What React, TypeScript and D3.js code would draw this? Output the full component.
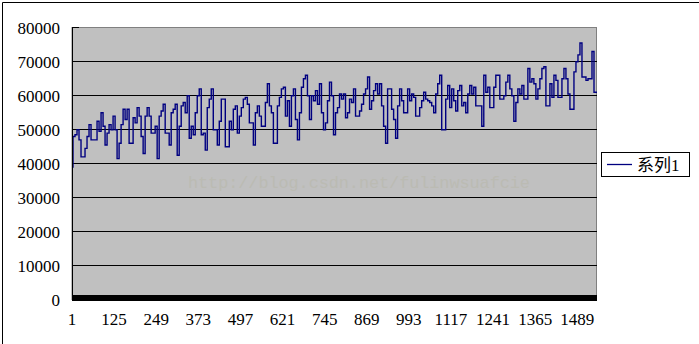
import React from "react";
import * as d3 from "d3";

const yTicks = [0, 10000, 20000, 30000, 40000, 50000, 60000, 70000, 80000];
const xTickLabels = [1, 125, 249, 373, 497, 621, 745, 869, 993, 1117, 1241, 1365, 1489];
const categoryCount = 1547;
const seriesName = "系列1";
const watermark = "http://blog.csdn.net/fulinwsuafcie";

const series1 = [
  39000, 48000, 48500, 50000, 47000, 42000, 42000, 44500, 48000, 51500,
  47000, 47000, 47000, 52500, 49500, 55000, 51000, 45500, 49000, 51500,
  50000, 54000, 50000, 41500, 46000, 51500, 56000, 53000, 56000, 46000,
  46000, 53500, 52000, 56500, 54000, 48000, 43000, 54000, 56500, 54000,
  49000, 49000, 51000, 41500, 54000, 55500, 57500, 49000, 49000, 45500,
  55000, 56000, 57500, 42500, 51000, 57000, 58000, 55000, 60000, 47500,
  51000, 48500, 55000, 60000, 62000, 48500,
  49000, 44000, 56500, 59000, 62000, 50000, 50000, 45500, 52500, 59000,
  59000, 45000, 45000, 52500, 50000, 56000, 57000, 49000, 54000, 56500,
  59000, 59500, 57500, 52000, 52000, 45500, 55000, 57000, 54000, 51000,
  51000, 58000, 63500, 57000, 55000, 46000, 46000, 57000, 59500, 62000,
  62500, 54000, 58500, 51000, 60000, 62000, 53000, 47000, 55000, 62500,
  65000, 66000, 60000, 53000, 60000, 58500, 61500, 57500, 63500, 55000,
  50000, 52000, 58500, 64000, 60000, 48500,
  55000, 56500, 60500, 59000, 60500, 53500, 55000, 59000, 58000, 62000,
  54000, 54000, 55500, 57500, 60500, 62000, 65500, 56000, 58500, 61500,
  63500, 60500, 63500, 57000, 51000, 46000, 62000, 62000, 56000, 53000,
  47500, 57000, 62000, 58500, 55000, 55000, 62000, 58500, 60500, 59500,
  54000, 54000, 56500, 58500, 61000, 59000, 58500, 58000, 57000, 55000,
  60500, 63500, 66000, 50000, 50000, 59000, 63000, 56500, 62000, 58500,
  55500, 61500, 63000, 57000, 58000, 55000,
  60500, 63000, 60500, 62500, 57000, 57000, 57000, 51000, 66000, 61000,
  62500, 56500, 56500, 62500, 66000, 66000, 59000, 59000, 60000, 64000,
  66000, 62000, 60000, 52500, 58000, 62000, 60500, 63000, 59000, 59000,
  68000, 64000, 65000, 63500, 59000, 62000, 65000, 68000, 68500, 57000,
  57000, 63500, 59500, 66000, 64500, 59500, 59500, 65000, 68000, 65000,
  60500, 56000, 56000, 67000, 70000, 72000, 75500, 65500, 65500, 64500,
  65000, 65000, 73000, 61000, 61000,
];

const W = 699;
const H = 344;
const plotL = 72;
const plotR = 597;
const plotT = 27.7;
const plotB = 299.7;

export default function App() {
  const x = d3.scaleLinear().domain([1, categoryCount]).range([plotL, plotR]);
  const y = d3.scaleLinear().domain([0, 80000]).range([plotB, plotT]);
  const step = (categoryCount - 1) / (series1.length - 1);
  const line = d3
    .line<number>()
    .x((_, i) => x(1 + i * step))
    .y((d) => y(d))
    .curve(d3.curveStep);
  const serif = "'Liberation Serif', 'Times New Roman', serif";

  return (
    <div style={{ position: "absolute", left: 0, top: 0, background: "#fff" }}>
      <svg width={W} height={H} style={{ display: "block" }}>
        <rect x={0} y={0} width={W} height={H} fill="#fff" />
        <line x1={2.5} y1={2.5} x2={W} y2={2.5} stroke="#000" strokeWidth={1} />
        <line x1={2.5} y1={2.5} x2={2.5} y2={H} stroke="#000" strokeWidth={1} />

        <rect
          x={plotL}
          y={Math.floor(plotT) + 0.5}
          width={plotR - plotL - 0.5}
          height={plotB - plotT}
          fill="#C0C0C0"
          stroke="#808080"
          strokeWidth={1}
        />

        <text
          x={188}
          y={188}
          fontFamily="'Liberation Mono', 'DejaVu Sans Mono', monospace"
          fontSize={17}
          fill="#bbbbb3"
          textLength={342}
        >
          {watermark}
        </text>

        {yTicks
          .filter((t) => t > 0 && t < 80000)
          .map((t) => (
            <line
              key={t}
              x1={plotL}
              x2={plotR}
              y1={Math.floor(y(t)) + 0.5}
              y2={Math.floor(y(t)) + 0.5}
              stroke="#000"
              strokeWidth={1}
            />
          ))}
        <line
          x1={plotL}
          x2={plotL + 7}
          y1={Math.floor(plotT) + 0.5}
          y2={Math.floor(plotT) + 0.5}
          stroke="#000"
        />

        <path d={line(series1) || ""} fill="none" stroke="#000080" strokeWidth={1.4} />

        <line x1={plotL + 0.5} x2={plotL + 0.5} y1={plotT} y2={plotB} stroke="#000" />
        <rect x={plotL} y={295} width={plotR - plotL} height={6} fill="#000" />

        {yTicks.map((t) => (
          <text
            key={t}
            x={60}
            y={y(t)}
            dy="0.35em"
            textAnchor="end"
            fontFamily={serif}
            fontSize={17}
            fill="#000"
          >
            {t}
          </text>
        ))}
        {xTickLabels.map((c) => (
          <text
            key={c}
            x={x(c)}
            y={325}
            textAnchor="middle"
            fontFamily={serif}
            fontSize={17}
            fill="#000"
          >
            {c}
          </text>
        ))}

        <rect x={601.5} y={152.5} width={88} height={24} fill="#fff" stroke="#000" strokeWidth={1} />
        <line x1={607} x2={632} y1={164.5} y2={164.5} stroke="#000080" strokeWidth={1.3} />
        <text
          x={637}
          y={164.5}
          dy="0.36em"
          fontFamily={"'Liberation Serif', 'Noto Sans CJK SC', serif"}
          fontSize={17}
          fill="#000"
        >
          {seriesName}
        </text>
      </svg>
    </div>
  );
}
